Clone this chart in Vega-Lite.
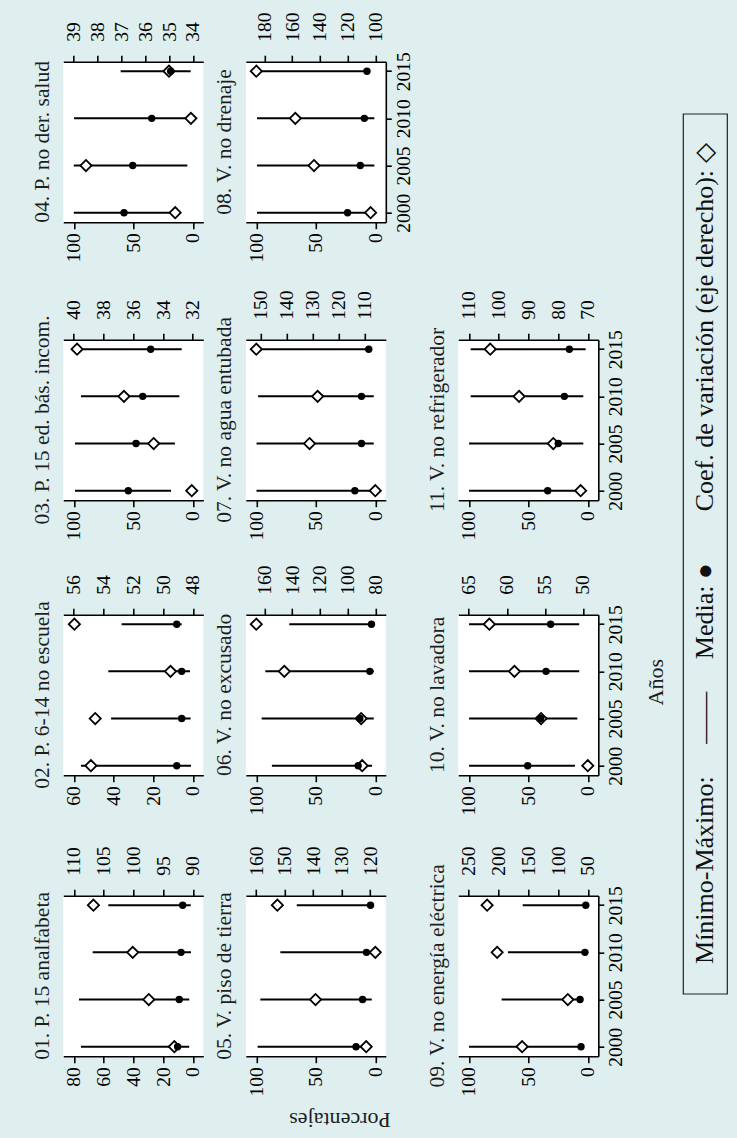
{
"$schema": "https://vega.github.io/schema/vega-lite/v6.json",
"autosize": {"type": "none"},
"padding": {"left": 63.3, "top": 61.7, "right": 673.7, "bottom": 1076.3},
"background": "#dfeeee",
"datasets": {"d": [
{"p":"01","year":2000,"min":2.4,"max":75.2,"mean":10.2,"cv":93.1},
{"p":"01","year":2005,"min":2.4,"max":76.5,"mean":9.1,"cv":97.4},
{"p":"01","year":2010,"min":1.2,"max":67.3,"mean":7.9,"cv":100.1},
{"p":"01","year":2015,"min":1.4,"max":56.8,"mean":6.8,"cv":106.7},
{"p":"02","year":2000,"min":0.9,"max":56.4,"mean":8.1,"cv":54.85},
{"p":"02","year":2005,"min":1.1,"max":41.2,"mean":5.6,"cv":54.56},
{"p":"02","year":2010,"min":1.4,"max":42.6,"mean":5.6,"cv":49.5},
{"p":"02","year":2015,"min":5.6,"max":35.9,"mean":8.1,"cv":55.96},
{"p":"03","year":2000,"min":18.3,"max":99,"mean":54.2,"cv":32.07},
{"p":"03","year":2005,"min":15,"max":99,"mean":47.7,"cv":34.63},
{"p":"03","year":2010,"min":11.3,"max":94,"mean":42.1,"cv":36.63},
{"p":"03","year":2015,"min":9.3,"max":97,"mean":35.4,"cv":39.78},
{"p":"04","year":2000,"min":15,"max":100,"mean":57.8,"cv":34.74},
{"p":"04","year":2005,"min":4.6,"max":100,"mean":50.5,"cv":38.49},
{"p":"04","year":2010,"min":1.5,"max":99.8,"mean":34.5,"cv":34.08},
{"p":"04","year":2015,"min":1.8,"max":60.6,"mean":18.6,"cv":35.0},
{"p":"05","year":2000,"min":3.9,"max":98.9,"mean":16.2,"cv":121.4},
{"p":"05","year":2005,"min":3,"max":96.6,"mean":10.7,"cv":139.2},
{"p":"05","year":2010,"min":6,"max":79.8,"mean":7.4,"cv":118.2},
{"p":"05","year":2015,"min":3.5,"max":66,"mean":4,"cv":152.6},
{"p":"06","year":2000,"min":2.7,"max":86.9,"mean":14.4,"cv":89.5},
{"p":"06","year":2005,"min":1.3,"max":95.5,"mean":13,"cv":90.2},
{"p":"06","year":2010,"min":1.3,"max":92.4,"mean":4.6,"cv":145.7},
{"p":"06","year":2015,"min":1.3,"max":72.3,"mean":3.2,"cv":165.9},
{"p":"07","year":2000,"min":0,"max":99.8,"mean":17.2,"cv":106},
{"p":"07","year":2005,"min":1.3,"max":99.8,"mean":11.6,"cv":131.2},
{"p":"07","year":2010,"min":1.3,"max":98.5,"mean":11.6,"cv":128.1},
{"p":"07","year":2015,"min":4.5,"max":97.6,"mean":5.5,"cv":151.6},
{"p":"08","year":2000,"min":1,"max":99.4,"mean":23.3,"cv":103.4},
{"p":"08","year":2005,"min":0.8,"max":99.4,"mean":12.6,"cv":144.3},
{"p":"08","year":2010,"min":0.8,"max":99.4,"mean":9.2,"cv":157.8},
{"p":"08","year":2015,"min":4.8,"max":99.4,"mean":7,"cv":186},
{"p":"09","year":2000,"min":4.3,"max":99.8,"mean":5.7,"cv":160.4},
{"p":"09","year":2005,"min":4.3,"max":72.4,"mean":6.5,"cv":83.6},
{"p":"09","year":2010,"min":0.9,"max":67.1,"mean":2.4,"cv":202.4},
{"p":"09","year":2015,"min":0.9,"max":54.7,"mean":1.7,"cv":219.2},
{"p":"10","year":2000,"min":10.8,"max":99.8,"mean":50.5,"cv":49.35},
{"p":"10","year":2005,"min":8.8,"max":99.8,"mean":39.6,"cv":55.5},
{"p":"10","year":2010,"min":7.2,"max":99.8,"mean":35.1,"cv":59},
{"p":"10","year":2015,"min":7.2,"max":99.8,"mean":31.2,"cv":62.3},
{"p":"11","year":2000,"min":2.9,"max":99.8,"mean":33.7,"cv":72.4},
{"p":"11","year":2005,"min":3.8,"max":99.8,"mean":24.8,"cv":81.6},
{"p":"11","year":2010,"min":3.8,"max":98.4,"mean":19.7,"cv":93.1},
{"p":"11","year":2015,"min":1.8,"max":98.4,"mean":15.5,"cv":102.8}
]},
"columns": 2,
"spacing": {"row": 0, "column": 618.7},
"bounds": "flush",
"config": {
  "view": {"stroke": null},
  "font": "Liberation Serif",
  "axis": {"grid": false, "domainColor": "black", "domainWidth": 1.6, "tickColor": "black", "tickWidth": 1.6, "tickSize": 6.5, "labelFont": "Liberation Serif", "labelFontSize": 19.5, "labelColor": "black", "labelAngle": 270, "labelOverlap": false, "labelFlush": false, "labelBound": false, "titleFont": "Liberation Serif", "titleFontWeight": "normal", "titleColor": "#1e1e1e", "titleFontSize": 22},
  "title": {"orient": "left", "angle": 270, "anchor": "middle", "offset": 10, "fontSize": 21.5, "fontWeight": "normal", "color": "#1e1e1e", "font": "Liberation Serif"}
},
"concat": [
{"columns": 3, "spacing": {"row": 0, "column": 42.5}, "bounds": "flush",
 "concat": [
{"width":140,"height":160.5,"view":{"fill":"white","stroke":null},"title":"04. P. no der. salud","data":{"name":"d"},"transform":[{"filter":"datum.p=='04'"}],
 "encoding":{"y":{"field":"year","type":"quantitative","title":null,"scale":{"domain":[2000,2015],"padding":9.5,"zero":false,"nice":false},"axis":null}},
 "layer":[
  {"mark":{"type":"rule","color":"black","strokeWidth":2},"encoding":{"x":{"field":"min","type":"quantitative","title":null,"scale":{"domain":[0,100],"reverse":true,"padding":10.5,"zero":false,"nice":false},"axis":{"orient":"bottom","values":[0,50,100],"format":"d","labelAlign":"right","labelBaseline":"middle","labelPadding":4}},"x2":{"field":"max"}}},
  {"mark":{"type":"point","shape":"diamond","filled":true,"fill":"white","stroke":"black","strokeWidth":1.8,"size":125,"opacity":1},"encoding":{"x":{"field":"cv","type":"quantitative","title":null,"scale":{"domain":[34,39],"reverse":true,"padding":10.5,"zero":false,"nice":false},"axis":{"orient":"top","values":[34,35,36,37,38,39],"format":"d","labelAlign":"left","labelBaseline":"middle","labelPadding":14}}}},
  {"mark":{"type":"point","shape":"circle","filled":true,"color":"black","size":55,"opacity":1},"encoding":{"x":{"field":"mean","type":"quantitative","title":null,"scale":{"domain":[0,100],"reverse":true,"padding":10.5,"zero":false,"nice":false},"axis":null}}}
 ],
 "resolve":{"scale":{"x":"independent"},"axis":{"x":"independent"}}},
{"width":140,"height":160.5,"view":{"fill":"white","stroke":null},"title":"08. V. no drenaje","data":{"name":"d"},"transform":[{"filter":"datum.p=='08'"}],
 "encoding":{"y":{"field":"year","type":"quantitative","title":null,"scale":{"domain":[2000,2015],"padding":9.5,"zero":false,"nice":false},"axis":{"orient":"right","values":[2000,2005,2010,2015],"format":"d","labelAlign":"center","labelBaseline":"top","labelPadding":3,"tickSize":5.5}}},
 "layer":[
  {"mark":{"type":"rule","color":"black","strokeWidth":2},"encoding":{"x":{"field":"min","type":"quantitative","title":null,"scale":{"domain":[0,100],"reverse":true,"padding":10.5,"zero":false,"nice":false},"axis":{"orient":"bottom","values":[0,50,100],"format":"d","labelAlign":"right","labelBaseline":"middle","labelPadding":4}},"x2":{"field":"max"}}},
  {"mark":{"type":"point","shape":"diamond","filled":true,"fill":"white","stroke":"black","strokeWidth":1.8,"size":125,"opacity":1},"encoding":{"x":{"field":"cv","type":"quantitative","title":null,"scale":{"domain":[100,186],"reverse":true,"padding":10.5,"zero":false,"nice":false},"axis":{"orient":"top","values":[100,120,140,160,180],"format":"d","labelAlign":"left","labelBaseline":"middle","labelPadding":14}}}},
  {"mark":{"type":"point","shape":"circle","filled":true,"color":"black","size":55,"opacity":1},"encoding":{"x":{"field":"mean","type":"quantitative","title":null,"scale":{"domain":[0,100],"reverse":true,"padding":10.5,"zero":false,"nice":false},"axis":null}}}
 ],
 "resolve":{"scale":{"x":"independent"},"axis":{"x":"independent"}}},
{"width":140,"height":160.5,"data":{"values":[]},"mark":"point"},
{"width":140,"height":116.8,"data":{"values":[]},"mark":"point"},
{"width":170,"height":116.8,"data":{"values":[]},"mark":"point"},
{"width":140,"height":116.8,"data":{"values":[]},"mark":"point"},
{"width":140,"height":160.5,"view":{"fill":"white","stroke":null},"title":"03. P. 15 ed. bás. incom.","data":{"name":"d"},"transform":[{"filter":"datum.p=='03'"}],
 "encoding":{"y":{"field":"year","type":"quantitative","title":null,"scale":{"domain":[2000,2015],"padding":9.5,"zero":false,"nice":false},"axis":null}},
 "layer":[
  {"mark":{"type":"rule","color":"black","strokeWidth":2},"encoding":{"x":{"field":"min","type":"quantitative","title":null,"scale":{"domain":[0,100],"reverse":true,"padding":10.5,"zero":false,"nice":false},"axis":{"orient":"bottom","values":[0,50,100],"format":"d","labelAlign":"right","labelBaseline":"middle","labelPadding":4}},"x2":{"field":"max"}}},
  {"mark":{"type":"point","shape":"diamond","filled":true,"fill":"white","stroke":"black","strokeWidth":1.8,"size":125,"opacity":1},"encoding":{"x":{"field":"cv","type":"quantitative","title":null,"scale":{"domain":[32,40],"reverse":true,"padding":10.5,"zero":false,"nice":false},"axis":{"orient":"top","values":[32,34,36,38,40],"format":"d","labelAlign":"left","labelBaseline":"middle","labelPadding":14}}}},
  {"mark":{"type":"point","shape":"circle","filled":true,"color":"black","size":55,"opacity":1},"encoding":{"x":{"field":"mean","type":"quantitative","title":null,"scale":{"domain":[0,100],"reverse":true,"padding":10.5,"zero":false,"nice":false},"axis":null}}}
 ],
 "resolve":{"scale":{"x":"independent"},"axis":{"x":"independent"}}},
{"width":140,"height":160.5,"view":{"fill":"white","stroke":null},"title":"07. V. no agua entubada","data":{"name":"d"},"transform":[{"filter":"datum.p=='07'"}],
 "encoding":{"y":{"field":"year","type":"quantitative","title":null,"scale":{"domain":[2000,2015],"padding":9.5,"zero":false,"nice":false},"axis":null}},
 "layer":[
  {"mark":{"type":"rule","color":"black","strokeWidth":2},"encoding":{"x":{"field":"min","type":"quantitative","title":null,"scale":{"domain":[0,100],"reverse":true,"padding":10.5,"zero":false,"nice":false},"axis":{"orient":"bottom","values":[0,50,100],"format":"d","labelAlign":"right","labelBaseline":"middle","labelPadding":4}},"x2":{"field":"max"}}},
  {"mark":{"type":"point","shape":"diamond","filled":true,"fill":"white","stroke":"black","strokeWidth":1.8,"size":125,"opacity":1},"encoding":{"x":{"field":"cv","type":"quantitative","title":null,"scale":{"domain":[106,151.6],"reverse":true,"padding":10.5,"zero":false,"nice":false},"axis":{"orient":"top","values":[110,120,130,140,150],"format":"d","labelAlign":"left","labelBaseline":"middle","labelPadding":14}}}},
  {"mark":{"type":"point","shape":"circle","filled":true,"color":"black","size":55,"opacity":1},"encoding":{"x":{"field":"mean","type":"quantitative","title":null,"scale":{"domain":[0,100],"reverse":true,"padding":10.5,"zero":false,"nice":false},"axis":null}}}
 ],
 "resolve":{"scale":{"x":"independent"},"axis":{"x":"independent"}}},
{"width":140,"height":160.5,"view":{"fill":"white","stroke":null},"title":"11. V. no refrigerador","data":{"name":"d"},"transform":[{"filter":"datum.p=='11'"}],
 "encoding":{"y":{"field":"year","type":"quantitative","title":null,"scale":{"domain":[2000,2015],"padding":9.5,"zero":false,"nice":false},"axis":{"orient":"right","values":[2000,2005,2010,2015],"format":"d","labelAlign":"center","labelBaseline":"top","labelPadding":3,"tickSize":5.5}}},
 "layer":[
  {"mark":{"type":"rule","color":"black","strokeWidth":2},"encoding":{"x":{"field":"min","type":"quantitative","title":null,"scale":{"domain":[0,100],"reverse":true,"padding":10.5,"zero":false,"nice":false},"axis":{"orient":"bottom","values":[0,50,100],"format":"d","labelAlign":"right","labelBaseline":"middle","labelPadding":4}},"x2":{"field":"max"}}},
  {"mark":{"type":"point","shape":"diamond","filled":true,"fill":"white","stroke":"black","strokeWidth":1.8,"size":125,"opacity":1},"encoding":{"x":{"field":"cv","type":"quantitative","title":null,"scale":{"domain":[70,110],"reverse":true,"padding":10.5,"zero":false,"nice":false},"axis":{"orient":"top","values":[70,80,90,100,110],"format":"d","labelAlign":"left","labelBaseline":"middle","labelPadding":14}}}},
  {"mark":{"type":"point","shape":"circle","filled":true,"color":"black","size":55,"opacity":1},"encoding":{"x":{"field":"mean","type":"quantitative","title":null,"scale":{"domain":[0,100],"reverse":true,"padding":10.5,"zero":false,"nice":false},"axis":null}}}
 ],
 "resolve":{"scale":{"x":"independent"},"axis":{"x":"independent"}}},
{"width":140,"height":114,"data":{"values":[]},"mark":"point"},
{"width":170,"height":114,"data":{"values":[]},"mark":"point"},
{"width":140,"height":114,"data":{"values":[]},"mark":"point"},
{"width":140,"height":160.5,"view":{"fill":"white","stroke":null},"title":"02. P. 6-14 no escuela","data":{"name":"d"},"transform":[{"filter":"datum.p=='02'"}],
 "encoding":{"y":{"field":"year","type":"quantitative","title":null,"scale":{"domain":[2000,2015],"padding":9.5,"zero":false,"nice":false},"axis":null}},
 "layer":[
  {"mark":{"type":"rule","color":"black","strokeWidth":2},"encoding":{"x":{"field":"min","type":"quantitative","title":null,"scale":{"domain":[0,60],"reverse":true,"padding":10.5,"zero":false,"nice":false},"axis":{"orient":"bottom","values":[0,20,40,60],"format":"d","labelAlign":"right","labelBaseline":"middle","labelPadding":4}},"x2":{"field":"max"}}},
  {"mark":{"type":"point","shape":"diamond","filled":true,"fill":"white","stroke":"black","strokeWidth":1.8,"size":125,"opacity":1},"encoding":{"x":{"field":"cv","type":"quantitative","title":null,"scale":{"domain":[48,56],"reverse":true,"padding":10.5,"zero":false,"nice":false},"axis":{"orient":"top","values":[48,50,52,54,56],"format":"d","labelAlign":"left","labelBaseline":"middle","labelPadding":14}}}},
  {"mark":{"type":"point","shape":"circle","filled":true,"color":"black","size":55,"opacity":1},"encoding":{"x":{"field":"mean","type":"quantitative","title":null,"scale":{"domain":[0,60],"reverse":true,"padding":10.5,"zero":false,"nice":false},"axis":null}}}
 ],
 "resolve":{"scale":{"x":"independent"},"axis":{"x":"independent"}}},
{"width":140,"height":160.5,"view":{"fill":"white","stroke":null},"title":"06. V. no excusado","data":{"name":"d"},"transform":[{"filter":"datum.p=='06'"}],
 "encoding":{"y":{"field":"year","type":"quantitative","title":null,"scale":{"domain":[2000,2015],"padding":9.5,"zero":false,"nice":false},"axis":null}},
 "layer":[
  {"mark":{"type":"rule","color":"black","strokeWidth":2},"encoding":{"x":{"field":"min","type":"quantitative","title":null,"scale":{"domain":[0,100],"reverse":true,"padding":10.5,"zero":false,"nice":false},"axis":{"orient":"bottom","values":[0,50,100],"format":"d","labelAlign":"right","labelBaseline":"middle","labelPadding":4}},"x2":{"field":"max"}}},
  {"mark":{"type":"point","shape":"diamond","filled":true,"fill":"white","stroke":"black","strokeWidth":1.8,"size":125,"opacity":1},"encoding":{"x":{"field":"cv","type":"quantitative","title":null,"scale":{"domain":[80,165.9],"reverse":true,"padding":10.5,"zero":false,"nice":false},"axis":{"orient":"top","values":[80,100,120,140,160],"format":"d","labelAlign":"left","labelBaseline":"middle","labelPadding":14}}}},
  {"mark":{"type":"point","shape":"circle","filled":true,"color":"black","size":55,"opacity":1},"encoding":{"x":{"field":"mean","type":"quantitative","title":null,"scale":{"domain":[0,100],"reverse":true,"padding":10.5,"zero":false,"nice":false},"axis":null}}}
 ],
 "resolve":{"scale":{"x":"independent"},"axis":{"x":"independent"}}},
{"width":140,"height":160.5,"view":{"fill":"white","stroke":null},"title":"10. V. no lavadora","data":{"name":"d"},"transform":[{"filter":"datum.p=='10'"}],
 "encoding":{"y":{"field":"year","type":"quantitative","scale":{"domain":[2000,2015],"padding":9.5,"zero":false,"nice":false},"axis":{"orient":"right","values":[2000,2005,2010,2015],"format":"d","labelAlign":"center","labelBaseline":"top","labelPadding":3,"tickSize":5.5,"title":"Años","titleAngle":270,"titleX":57,"titleY":67,"titleAlign":"center","titleBaseline":"middle"}}},
 "layer":[
  {"mark":{"type":"rule","color":"black","strokeWidth":2},"encoding":{"x":{"field":"min","type":"quantitative","title":null,"scale":{"domain":[0,100],"reverse":true,"padding":10.5,"zero":false,"nice":false},"axis":{"orient":"bottom","values":[0,50,100],"format":"d","labelAlign":"right","labelBaseline":"middle","labelPadding":4}},"x2":{"field":"max"}}},
  {"mark":{"type":"point","shape":"diamond","filled":true,"fill":"white","stroke":"black","strokeWidth":1.8,"size":125,"opacity":1},"encoding":{"x":{"field":"cv","type":"quantitative","title":null,"scale":{"domain":[49.35,65],"reverse":true,"padding":10.5,"zero":false,"nice":false},"axis":{"orient":"top","values":[50,55,60,65],"format":"d","labelAlign":"left","labelBaseline":"middle","labelPadding":14}}}},
  {"mark":{"type":"point","shape":"circle","filled":true,"color":"black","size":55,"opacity":1},"encoding":{"x":{"field":"mean","type":"quantitative","title":null,"scale":{"domain":[0,100],"reverse":true,"padding":10.5,"zero":false,"nice":false},"axis":null}}}
 ],
 "resolve":{"scale":{"x":"independent"},"axis":{"x":"independent"}}},
{"width":140,"height":119.3,"data":{"values":[]},"mark":"point"},
{"width":170,"height":119.3,"data":{"values":[]},"mark":"point"},
{"width":140,"height":119.3,"data":{"values":[]},"mark":"point"},
{"width":140,"height":160.5,"view":{"fill":"white","stroke":null},"title":"01. P. 15 analfabeta","data":{"name":"d"},"transform":[{"filter":"datum.p=='01'"}],
 "encoding":{"y":{"field":"year","type":"quantitative","title":null,"scale":{"domain":[2000,2015],"padding":9.5,"zero":false,"nice":false},"axis":null}},
 "layer":[
  {"mark":{"type":"rule","color":"black","strokeWidth":2},"encoding":{"x":{"field":"min","type":"quantitative","title":null,"scale":{"domain":[0,80],"reverse":true,"padding":10.5,"zero":false,"nice":false},"axis":{"orient":"bottom","values":[0,20,40,60,80],"format":"d","labelAlign":"right","labelBaseline":"middle","labelPadding":4}},"x2":{"field":"max"}}},
  {"mark":{"type":"point","shape":"diamond","filled":true,"fill":"white","stroke":"black","strokeWidth":1.8,"size":125,"opacity":1},"encoding":{"x":{"field":"cv","type":"quantitative","title":null,"scale":{"domain":[90,110],"reverse":true,"padding":10.5,"zero":false,"nice":false},"axis":{"orient":"top","values":[90,95,100,105,110],"format":"d","labelAlign":"left","labelBaseline":"middle","labelPadding":14}}}},
  {"mark":{"type":"point","shape":"circle","filled":true,"color":"black","size":55,"opacity":1},"encoding":{"x":{"field":"mean","type":"quantitative","title":null,"scale":{"domain":[0,80],"reverse":true,"padding":10.5,"zero":false,"nice":false},"axis":null}}}
 ],
 "resolve":{"scale":{"x":"independent"},"axis":{"x":"independent"}}},
{"width":140,"height":160.5,"view":{"fill":"white","stroke":null},"title":"05. V. piso de tierra","data":{"name":"d"},"transform":[{"filter":"datum.p=='05'"}],
 "encoding":{"y":{"field":"year","type":"quantitative","title":null,"scale":{"domain":[2000,2015],"padding":9.5,"zero":false,"nice":false},"axis":null}},
 "layer":[
  {"mark":{"type":"rule","color":"black","strokeWidth":2},"encoding":{"x":{"field":"min","type":"quantitative","scale":{"domain":[0,100],"reverse":true,"padding":10.5,"zero":false,"nice":false},"axis":{"orient":"bottom","values":[0,50,100],"format":"d","labelAlign":"right","labelBaseline":"middle","labelPadding":4,"title":"Porcentajes","titleAngle":180,"titleX":93.7,"titleY":63,"titleAlign":"center","titleBaseline":"middle"}},"x2":{"field":"max"}}},
  {"mark":{"type":"point","shape":"diamond","filled":true,"fill":"white","stroke":"black","strokeWidth":1.8,"size":125,"opacity":1},"encoding":{"x":{"field":"cv","type":"quantitative","title":null,"scale":{"domain":[118.2,160],"reverse":true,"padding":10.5,"zero":false,"nice":false},"axis":{"orient":"top","values":[120,130,140,150,160],"format":"d","labelAlign":"left","labelBaseline":"middle","labelPadding":14}}}},
  {"mark":{"type":"point","shape":"circle","filled":true,"color":"black","size":55,"opacity":1},"encoding":{"x":{"field":"mean","type":"quantitative","title":null,"scale":{"domain":[0,100],"reverse":true,"padding":10.5,"zero":false,"nice":false},"axis":null}}}
 ],
 "resolve":{"scale":{"x":"independent"},"axis":{"x":"independent"}}},
{"width":140,"height":160.5,"view":{"fill":"white","stroke":null},"title":"09. V. no energía eléctrica","data":{"name":"d"},"transform":[{"filter":"datum.p=='09'"}],
 "encoding":{"y":{"field":"year","type":"quantitative","title":null,"scale":{"domain":[2000,2015],"padding":9.5,"zero":false,"nice":false},"axis":{"orient":"right","values":[2000,2005,2010,2015],"format":"d","labelAlign":"center","labelBaseline":"top","labelPadding":3,"tickSize":5.5}}},
 "layer":[
  {"mark":{"type":"rule","color":"black","strokeWidth":2},"encoding":{"x":{"field":"min","type":"quantitative","title":null,"scale":{"domain":[0,100],"reverse":true,"padding":10.5,"zero":false,"nice":false},"axis":{"orient":"bottom","values":[0,50,100],"format":"d","labelAlign":"right","labelBaseline":"middle","labelPadding":4}},"x2":{"field":"max"}}},
  {"mark":{"type":"point","shape":"diamond","filled":true,"fill":"white","stroke":"black","strokeWidth":1.8,"size":125,"opacity":1},"encoding":{"x":{"field":"cv","type":"quantitative","title":null,"scale":{"domain":[50,250],"reverse":true,"padding":10.5,"zero":false,"nice":false},"axis":{"orient":"top","values":[50,100,150,200,250],"format":"d","labelAlign":"left","labelBaseline":"middle","labelPadding":14}}}},
  {"mark":{"type":"point","shape":"circle","filled":true,"color":"black","size":55,"opacity":1},"encoding":{"x":{"field":"mean","type":"quantitative","title":null,"scale":{"domain":[0,100],"reverse":true,"padding":10.5,"zero":false,"nice":false},"axis":null}}}
 ],
 "resolve":{"scale":{"x":"independent"},"axis":{"x":"independent"}}}
 ]},
{"width":44,"height":51.3,"data":{"values":[]},"mark":"point"},
{"width":1,"height":1,"data":{"values":[]},"mark":"point"},
{"width":44,"height":880,"view":{"stroke":"#222","strokeWidth":1.2,"fill":null},
 "data":{"values":[{"t":"Mínimo-Máximo:\u2003 —— \u2003Media: ●\u2003\u2003Coef. de variación (eje derecho): ◇"}]},
 "mark":{"type":"text","angle":270,"fontSize":26,"font":"Liberation Serif","color":"#111","align":"center","baseline":"middle"},
 "encoding":{"text":{"field":"t","type":"nominal"}}}
]
}
